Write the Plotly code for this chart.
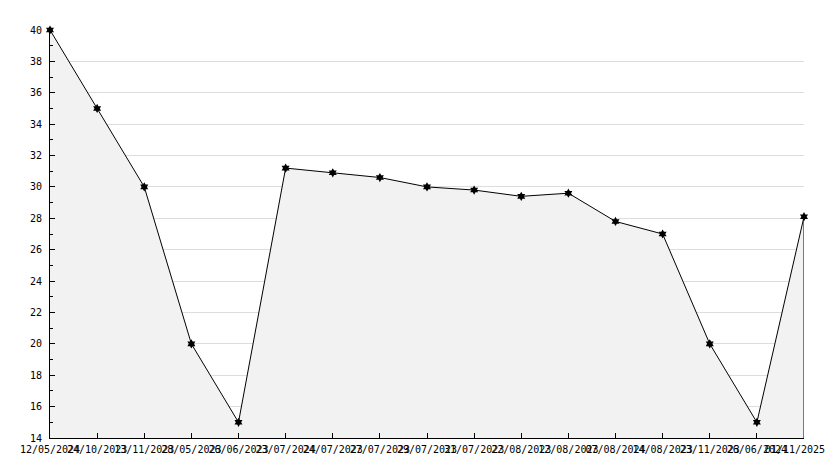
import plotly.graph_objects as go

# Fechas (categorías del eje x) y valores
fechas = [
    "12/05/2024", "24/10/2023", "13/11/2023", "28/05/2023", "26/06/2023",
    "23/07/2024", "24/07/2023", "27/07/2023", "29/07/2023", "31/07/2023",
    "22/08/2023", "12/08/2023", "07/08/2024", "14/08/2023", "23/11/2023",
    "26/06/2024", "01/11/2025",
]
valores = [40, 35, 30, 20, 15, 31.2, 30.9, 30.6, 30.0, 29.8,
           29.4, 29.6, 27.8, 27.0, 20, 15, 28.1]

y_min, y_max = 14, 40

# La última etiqueta se corre a la izquierda para que no se corte
etiquetas = fechas[:-1] + [fechas[-1] + "\u00a0" * 3]

fig = go.Figure()

# Área con línea y marcadores
fig.add_trace(go.Scatter(
    x=fechas, y=valores,
    mode="lines+markers",
    fill="tozeroy",
    fillcolor="#f2f2f2",
    line=dict(color="black", width=1),
    marker=dict(symbol="hexagram", size=7, color="black"),
    cliponaxis=False,
    hoverinfo="x+y",
))

# Borde derecho del área
fig.add_trace(go.Scatter(
    x=[fechas[-1], fechas[-1]], y=[valores[-1], y_min],
    mode="lines", line=dict(color="black", width=1),
    hoverinfo="skip", cliponaxis=False,
))

# la página tiene 8px de margen, se compensa aquí
fig.update_layout(
    width=826, height=452,
    showlegend=False,
    plot_bgcolor="white",
    paper_bgcolor="white",
    margin=dict(l=42, r=30, t=22, b=22),
    font=dict(family="DejaVu Sans Mono", size=10, color="black"),
    xaxis=dict(
        type="category",
        range=[0, len(fechas) - 1],
        tickvals=fechas,
        ticktext=etiquetas,
        automargin=False,
        showgrid=False,
        showline=True, linecolor="black", linewidth=1,
        ticks="inside", ticklen=5, tickcolor="black",
        ticklabelstandoff=2,
        tickangle=0,
        zeroline=False,
    ),
    yaxis=dict(
        range=[y_min, y_max],
        dtick=2, tick0=14,
        automargin=False,
        showgrid=True, gridcolor="#dddddd", gridwidth=1,
        showline=True, linecolor="black", linewidth=1,
        ticks="inside", ticklen=5, tickcolor="black",
        ticklabelstandoff=5,
        minor=dict(dtick=1, ticks="inside", ticklen=3, tickcolor="black", showgrid=False),
        zeroline=False,
    ),
)

fig.write_html("out.html")
